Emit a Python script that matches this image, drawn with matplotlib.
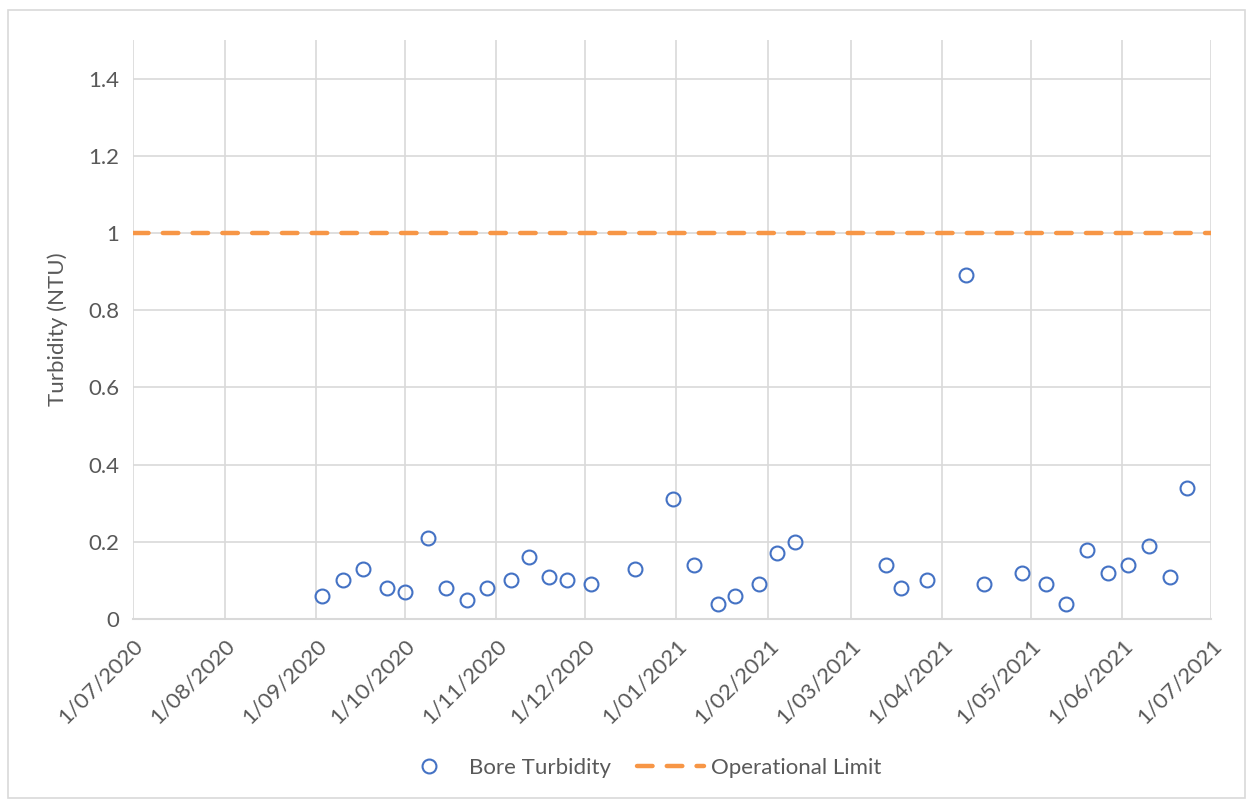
import datetime as dt

import matplotlib.pyplot as plt
from matplotlib.patches import Rectangle

# sample dates and turbidity readings (NTU)
sample_dates = [
    "2020-09-03", "2020-09-10", "2020-09-17", "2020-09-25", "2020-10-01",
    "2020-10-09", "2020-10-15", "2020-10-22", "2020-10-29", "2020-11-06",
    "2020-11-12", "2020-11-19", "2020-11-25", "2020-12-03", "2020-12-18",
    "2020-12-31", "2021-01-07", "2021-01-15", "2021-01-21", "2021-01-29",
    "2021-02-04", "2021-02-10", "2021-03-13", "2021-03-18", "2021-03-27",
    "2021-04-09", "2021-04-15", "2021-04-28", "2021-05-06", "2021-05-13",
    "2021-05-20", "2021-05-27", "2021-06-03", "2021-06-10", "2021-06-17",
    "2021-06-23",
]
turbidity = [
    0.06, 0.10, 0.13, 0.08, 0.07,
    0.21, 0.08, 0.05, 0.08, 0.10,
    0.16, 0.11, 0.10, 0.09, 0.13,
    0.31, 0.14, 0.04, 0.06, 0.09,
    0.17, 0.20, 0.14, 0.08, 0.10,
    0.89, 0.09, 0.12, 0.09, 0.04,
    0.18, 0.12, 0.14, 0.19, 0.11,
    0.34,
]
operational_limit = 1.0
y_ticks = [0, 0.2, 0.4, 0.6, 0.8, 1, 1.2, 1.4]
start, end = dt.date(2020, 7, 1), dt.date(2021, 7, 1)

BLUE = "#4472C4"
ORANGE = "#F79646"
GRID = "#D9D9D9"
TEXT = "#595959"
FS = 16

plt.rcParams["font.family"] = ["Lato", "DejaVu Sans"]

fig = plt.figure(figsize=(12.53, 8.01), dpi=100)
fig.patches.append(Rectangle((0.006, 0.004), 0.988, 0.983, transform=fig.transFigure,
                             fill=False, edgecolor=GRID, linewidth=1.2))
ax = fig.add_axes([0.1061, 0.2272, 0.8604, 0.7228])

dates = [dt.date.fromisoformat(d) for d in sample_dates]
ax.plot(dates, turbidity, linestyle="none", marker="o", markersize=10,
        markerfacecolor="none", markeredgecolor=BLUE, markeredgewidth=1.5,
        label="Bore Turbidity", zorder=3)
ax.plot([start, end], [operational_limit, operational_limit], color=ORANGE,
        linewidth=3.2, dashes=(3.5, 3.2), dash_capstyle="round",
        label="Operational Limit", zorder=2)

ax.set_xlim(start, end)
ax.set_ylim(0, 1.5)
ax.set_yticks(y_ticks)
ax.set_yticklabels([f"{v:g}" for v in y_ticks])

month_ticks = [dt.date(2020 + (6 + i) // 12, (6 + i) % 12 + 1, 1) for i in range(13)]
ax.set_xticks(month_ticks)
ax.set_xticklabels([f"{d.day}/{d.month:02d}/{d.year}" for d in month_ticks],
                   rotation=45, ha="right", rotation_mode="anchor")

ax.grid(True, color=GRID, linewidth=1.2)
ax.set_axisbelow(True)
for side in ["top", "right", "left"]:
    ax.spines[side].set_visible(False)
ax.spines["bottom"].set_color(GRID)
ax.spines["bottom"].set_linewidth(1.5)
ax.tick_params(length=0, colors=TEXT, labelsize=FS, pad=10)
ax.tick_params(axis="x", pad=12)
ax.set_ylabel("Turbidity (NTU)", fontsize=FS, color=TEXT, labelpad=14)

fig.legend(*ax.get_legend_handles_labels(), loc="center",
           bbox_to_anchor=(0.5094, 0.041), ncol=2, frameon=False,
           fontsize=FS, labelcolor=TEXT, handlelength=3.0, columnspacing=1.2,
           handletextpad=0.3)

fig.savefig("out.png", dpi=100)
